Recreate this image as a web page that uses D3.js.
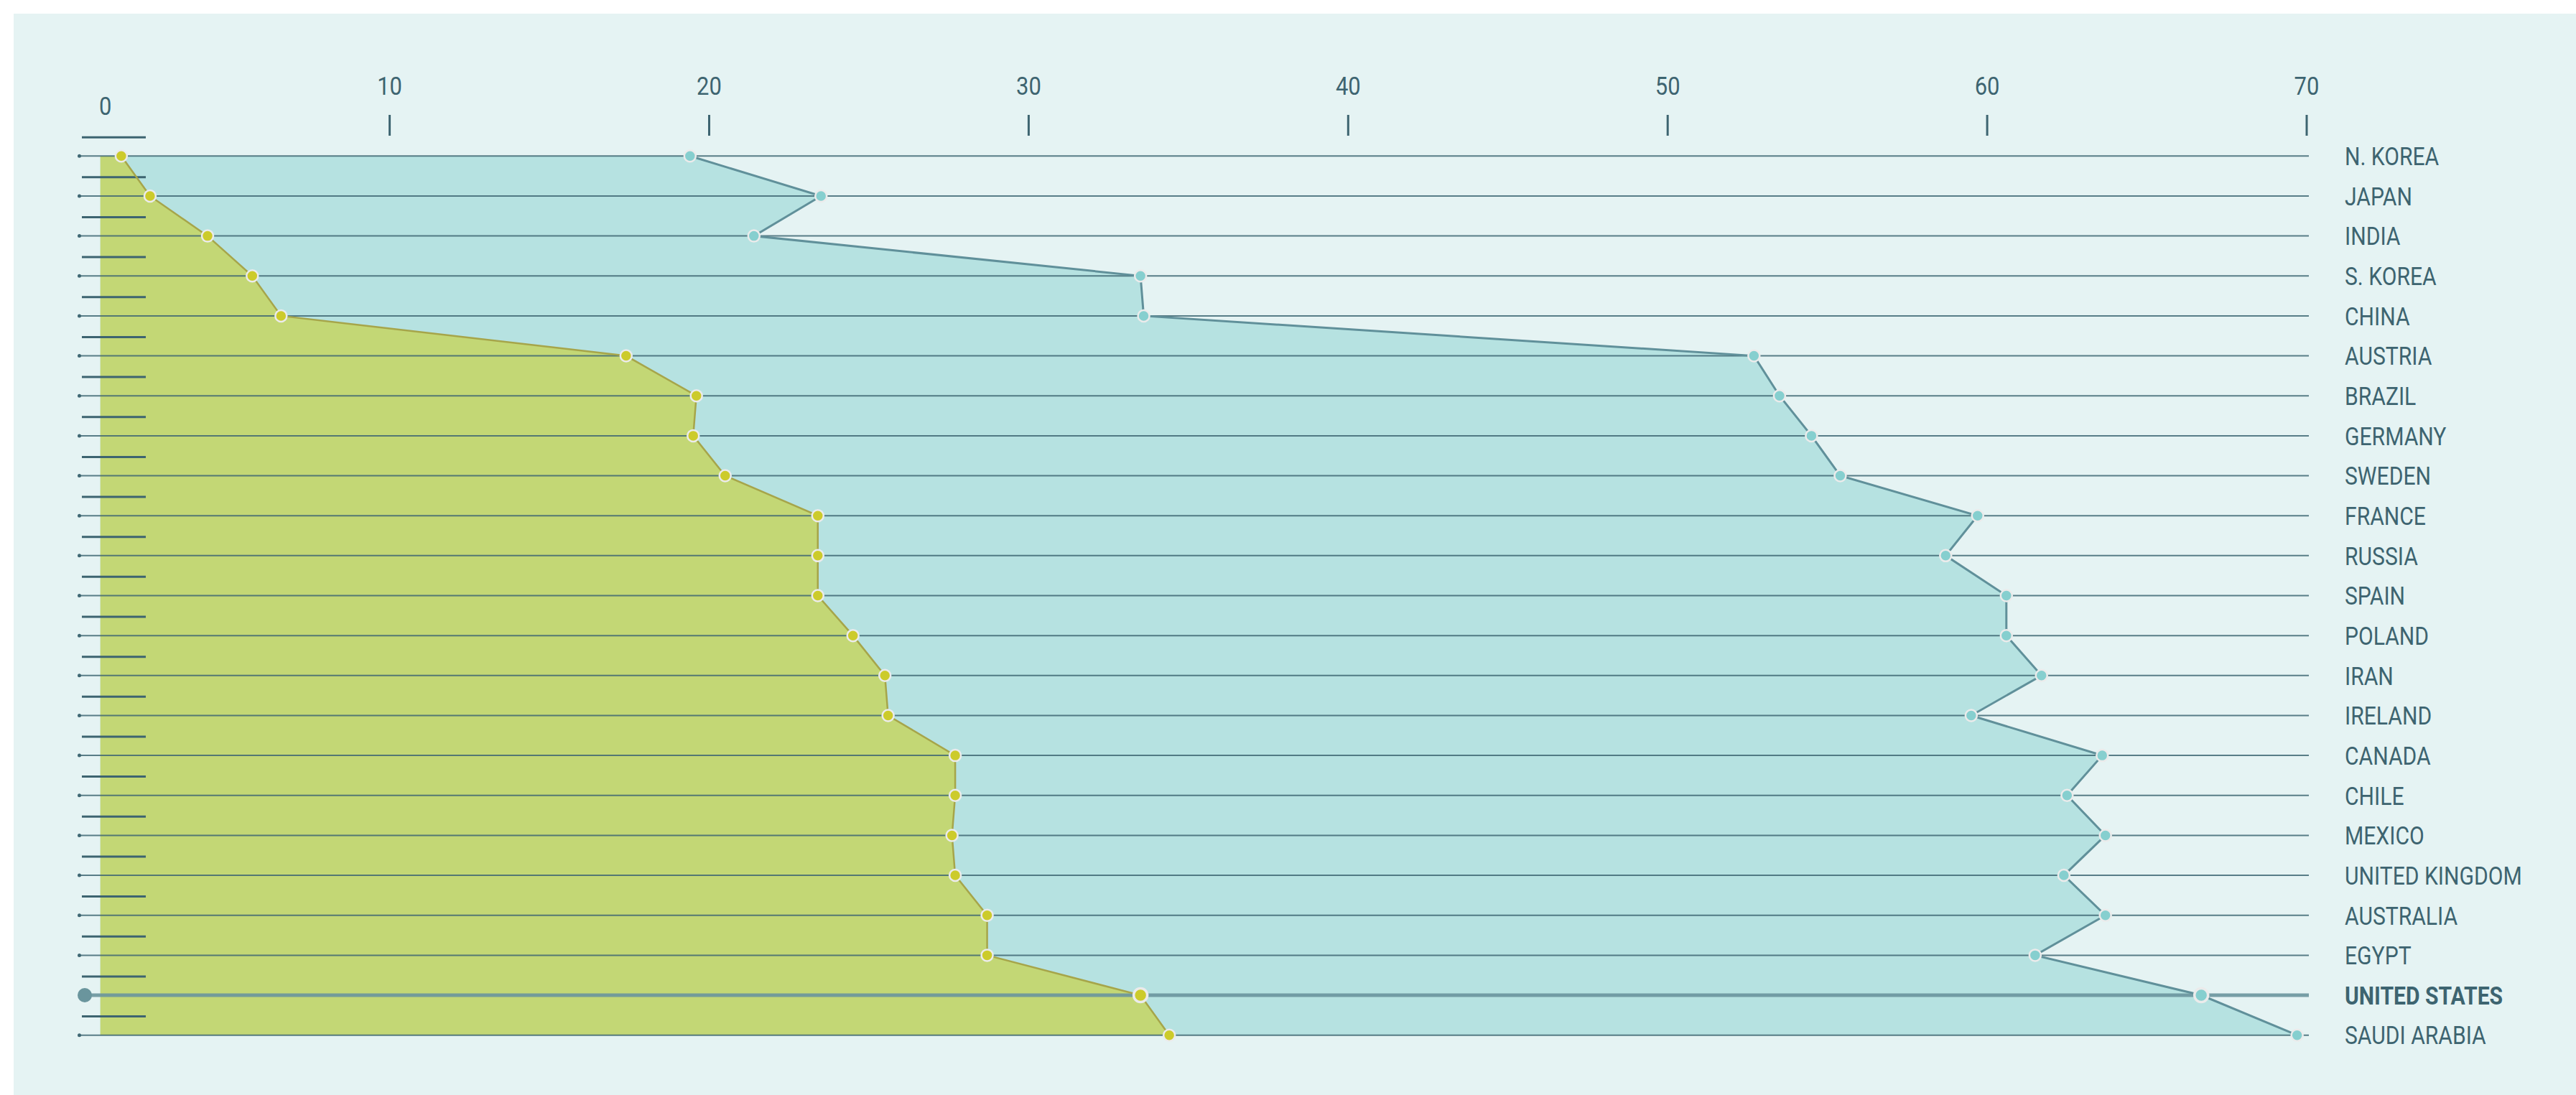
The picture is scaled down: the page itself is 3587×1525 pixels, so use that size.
<!DOCTYPE html>
<html>
<head>
<meta charset="utf-8">
<script src="https://cdnjs.cloudflare.com/ajax/libs/d3/7.8.5/d3.min.js"></script>
<style>
	html, body { margin: 0; padding: 0; background: #fff; }
	svg { display: block; }
</style>
</head>
<body>
<div id="chart"></div>
<script>
// data
var countries = ["N. KOREA", "JAPAN", "INDIA", "S. KOREA", "CHINA", "AUSTRIA", "BRAZIL", "GERMANY",
	"SWEDEN", "FRANCE", "RUSSIA", "SPAIN", "POLAND", "IRAN", "IRELAND", "CANADA", "CHILE", "MEXICO",
	"UNITED KINGDOM", "AUSTRALIA", "EGYPT", "UNITED STATES", "SAUDI ARABIA"];
var lowValues = [1.6, 2.5, 4.3, 5.7, 6.6, 17.4, 19.6, 19.5, 20.5, 23.4, 23.4, 23.4, 24.5, 25.5, 25.6,
	27.7, 27.7, 27.6, 27.7, 28.7, 28.7, 33.5, 34.4];
var highValues = [19.4, 23.5, 21.4, 33.5, 33.6, 52.7, 53.5, 54.5, 55.4, 59.7, 58.7, 60.6, 60.6, 61.7,
	59.5, 63.6, 62.5, 63.7, 62.4, 63.7, 61.5, 66.7, 69.7];
var tickValues = [10, 20, 30, 40, 50, 60, 70];
var zeroLabel = "0";
var highlight = "UNITED STATES";

(function() {
	var w = 3587,
		h = 1525,
		inset = 19,
		baseShift = 42,
		labelX = 3265,
		textColor = "#3d6470",
		font = "Roboto, 'Noto Sans', sans-serif";

	var low = countries.map(function(c, i) { return {country: c, value: lowValues[i]}; });
	var high = countries.map(function(c, i) { return {country: c, value: highValues[i]}; });

	var x = d3.scaleLinear().domain([0, 70]).range([97.7, 3212]);
	var y = d3.scalePoint().domain(countries).range([217.3, 1441.7]);
	var step = y.step();
	var baseX = x(0) + baseShift;

	var svg = d3.select("#chart")
		.append("svg")
		.attr("width", w)
		.attr("height", h);

	svg.append("rect")
		.attr("x", inset)
		.attr("y", inset)
		.attr("width", w - inset)
		.attr("height", h - inset)
		.attr("fill", "#e5f3f3");

	var area = d3.area()
		.y(function(d) { return y(d.country); })
		.x0(baseX)
		.x1(function(d) { return x(d.value); });

	var line = d3.line()
		.y(function(d) { return y(d.country); })
		.x(function(d) { return x(d.value); });

	svg.append("path")
		.datum(high)
		.attr("d", area)
		.attr("fill", "#b6e2e1");

	svg.append("path")
		.datum(low)
		.attr("d", area)
		.attr("fill", "#c3d775");

	// x axis ticks
	var ticks = svg.append("g");
	ticks.selectAll("line")
		.data(tickValues)
		.enter().append("line")
		.attr("x1", function(d) { return x(d); })
		.attr("x2", function(d) { return x(d); })
		.attr("y1", 160)
		.attr("y2", 189)
		.attr("stroke", textColor)
		.attr("stroke-width", 3);

	ticks.selectAll("text")
		.data(tickValues)
		.enter().append("text")
		.attr("transform", function(d) { return "translate(" + x(d) + ",132) scale(0.86,1)"; })
		.attr("text-anchor", "middle")
		.attr("font-family", font)
		.attr("font-size", 36)
		.attr("fill", textColor)
		.text(function(d) { return d; });

	ticks.append("text")
		.attr("transform", "translate(" + (baseX + 7) + ",160) scale(0.86,1)")
		.attr("text-anchor", "middle")
		.attr("font-family", font)
		.attr("font-size", 36)
		.attr("fill", textColor)
		.text(zeroLabel);

	// short dashes between rows
	svg.append("g").selectAll("line")
		.data(countries)
		.enter().append("line")
		.attr("x1", 114)
		.attr("x2", 203)
		.attr("y1", function(d) { return y(d) - step * 0.47; })
		.attr("y2", function(d) { return y(d) - step * 0.47; })
		.attr("stroke", textColor)
		.attr("stroke-width", 3);

	// row lines
	var rows = svg.append("g");
	rows.selectAll("line")
		.data(countries)
		.enter().append("line")
		.attr("x1", 110)
		.attr("x2", x(70) + 3)
		.attr("y1", function(d) { return y(d); })
		.attr("y2", function(d) { return y(d); })
		.attr("stroke", function(d) { return d === highlight ? "#6a959d" : "#3f6773"; })
		.attr("stroke-opacity", function(d) { return d === highlight ? 0.9 : 0.85; })
		.attr("stroke-width", function(d) { return d === highlight ? 5 : 2; });

	rows.selectAll("circle")
		.data(countries)
		.enter().append("circle")
		.attr("cx", function(d) { return d === highlight ? 118 : 110.5; })
		.attr("cy", function(d) { return y(d); })
		.attr("r", function(d) { return d === highlight ? 10 : 2.5; })
		.attr("fill", function(d) { return d === highlight ? "#6a959d" : "#3f6773"; });

	svg.append("path")
		.datum(high)
		.attr("d", line)
		.attr("fill", "none")
		.attr("stroke", "#60909a")
		.attr("stroke-width", 3);

	svg.append("path")
		.datum(low)
		.attr("d", line)
		.attr("fill", "none")
		.attr("stroke", "#a6a54a")
		.attr("stroke-width", 2.5);

	function dots(data, color) {
		svg.append("g").selectAll("circle")
			.data(data)
			.enter().append("circle")
			.attr("cx", function(d) { return x(d.value); })
			.attr("cy", function(d) { return y(d.country); })
			.attr("r", function(d) { return d.country === highlight ? 9.5 : 8; })
			.attr("fill", color)
			.attr("stroke", "#ebebeb")
			.attr("stroke-width", function(d) { return d.country === highlight ? 3.5 : 2.5; });
	}
	dots(high, "#86cfcf");
	dots(low, "#cccb2b");

	// country labels
	svg.append("g").selectAll("text")
		.data(countries)
		.enter().append("text")
		.attr("transform", function(d) { return "translate(" + labelX + "," + (y(d) + 1) + ") scale(0.86,1)"; })
		.attr("dominant-baseline", "central")
		.attr("font-family", font)
		.attr("font-size", 35)
		.attr("font-weight", function(d) { return d === highlight ? 700 : 400; })
		.attr("fill", textColor)
		.text(function(d) { return d; });
})();
</script>
</body>
</html>
